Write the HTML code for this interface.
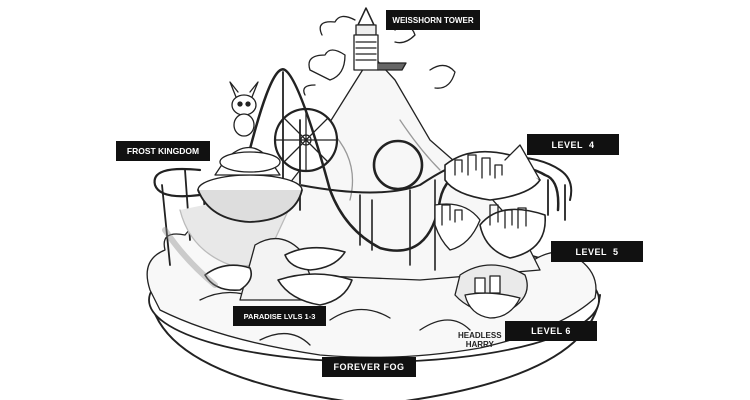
<!DOCTYPE html>
<html><head><meta charset="utf-8"><style>
html,body{margin:0;padding:0;background:#fff;}
.wrap{position:relative;width:750px;height:400px;overflow:hidden;background:#fff;}
.lb{position:absolute;background:#111;color:#fff;font-family:"Liberation Sans",sans-serif;font-size:9px;font-weight:bold;letter-spacing:0.5px;display:flex;align-items:center;justify-content:center;white-space:nowrap;overflow:hidden;}
</style></head><body><div class="wrap">
<svg width="750" height="400" viewBox="0 0 750 400" style="position:absolute;left:0;top:0" fill="none" stroke="#222" stroke-width="1.3" stroke-linejoin="round" stroke-linecap="round">
<path d="M150 295 Q160 380 375 405 Q590 380 600 295" stroke-width="2" fill="#fff"/>
<ellipse cx="374" cy="300" rx="225" ry="62" stroke-width="1.8" fill="#fff"/>
<path d="M150 290 Q140 260 165 250 Q160 230 185 235 Q200 215 230 228 Q260 215 290 232 Q330 225 350 250 Q390 240 420 262 Q450 250 470 265 Q500 255 520 270 Q555 240 580 260 Q600 275 595 298 Q560 330 480 348 Q400 362 320 355 Q220 340 160 310 Z" fill="#f8f8f8"/>
<path d="M200 300 Q230 285 260 300 M330 320 Q360 300 390 318 M420 330 Q450 310 470 330 M260 340 Q290 325 310 345" />
<path d="M230 260 L300 170 L350 90 L372 55 L395 80 L430 140 L470 175 L520 230 L540 270 L420 280 L300 275 Z" fill="#f7f7f7"/>
<path d="M330 130 Q360 160 350 200 M400 120 Q420 150 440 170" stroke="#999"/>
<path d="M322 35 Q315 20 335 22 Q340 12 355 20 M395 30 Q410 20 415 35 Q405 45 395 42 M310 70 Q305 55 325 55 Q330 45 345 55 Q345 75 330 80 Z M430 70 Q445 60 455 72 Q450 90 435 88 M305 95 Q300 85 315 85" fill="#fff"/>
<path d="M358 25 L366 8 L374 25 Z" fill="#fff" stroke-width="1.5"/>
<rect x="356" y="25" width="20" height="10" fill="#eee"/>
<rect x="354" y="35" width="24" height="35" fill="#fff"/>
<path d="M356 42 H376 M356 48 H376 M356 54 H376 M356 60 H376"/>
<path d="M378 63 H406 L402 70 H378" fill="#666"/>
<circle cx="306" cy="140" r="31" stroke-width="2.2" fill="#fff"/>
<circle cx="306" cy="140" r="5"/>
<path d="M306 109 V171 M275 140 H337 M284 118 L328 162 M328 118 L284 162"/>
<path d="M240 190 Q270 60 285 70 Q300 80 330 190 Q345 230 380 248 Q430 262 440 200 Q445 175 470 170 Q520 160 545 175 Q560 180 558 210" stroke-width="2.5"/>
<path d="M283 72 V190 M300 120 V210" stroke-width="1.8"/>
<circle cx="398" cy="165" r="24" stroke-width="2.6"/>
<path d="M300 185 Q380 200 420 185 Q450 165 470 160 Q530 150 560 170 Q575 180 570 200" stroke-width="2"/>
<path d="M360 195 V245 M372 200 V250 M410 190 V265 M435 180 V270" stroke-width="1.6"/>
<path d="M200 170 Q150 165 155 185 Q160 200 200 195" stroke-width="2.2"/>
<path d="M162 185 L170 265 M185 170 L190 240 M203 185 L206 230" stroke-width="1.8"/>
<path d="M548 180 V215 M565 185 V220" stroke-width="1.8"/>
<path d="M180 210 Q190 250 230 265 Q260 270 270 250 L300 185" fill="#e8e8e8" stroke="#bbb"/>
<ellipse cx="250" cy="190" rx="52" ry="15" fill="#fff"/>
<path d="M198 190 Q210 220 250 222 Q295 220 302 190" fill="#ddd" stroke-width="1.8"/>
<path d="M225 160 Q250 135 270 160 L280 175 H215 Z" fill="#fff"/>
<ellipse cx="250" cy="162" rx="30" ry="10" fill="#fff"/>
<ellipse cx="244" cy="105" rx="12" ry="10" fill="#fff"/>
<path d="M236 97 L230 82 L238 92 M252 97 L258 82 L250 92" fill="#fff"/>
<circle cx="240" cy="104" r="2" fill="#222"/><circle cx="248" cy="104" r="2" fill="#222"/>
<ellipse cx="244" cy="125" rx="10" ry="11" fill="#fff"/>
<path d="M445 165 Q470 145 510 155 L540 180 Q530 195 490 200 Q455 195 445 180 Z" fill="#fff" stroke-width="1.6"/>
<path d="M505 160 L520 145 L540 180" fill="#fff"/>
<path d="M455 175 V160 H462 V172 M468 175 V155 H476 V170 M482 178 V158 H490 V175 M495 178 V165 H502 V175"/>
<path d="M435 205 Q465 200 480 220 Q470 245 450 250 Q440 240 435 225Z" fill="#fff"/>
<path d="M480 225 Q500 200 545 215 Q548 250 510 258 Q485 250 480 225 Z" fill="#fff" stroke-width="1.6"/>
<path d="M442 225 V205 H450 V220 M455 222 V210 H462 V220 M490 225 V205 H498 V222 M505 228 V210 H512 V225 M518 228 V208 H526 V226"/>
<path d="M460 275 Q490 255 525 275 Q535 300 500 315 Q470 312 455 295 Z" fill="#eaeaea"/>
<path d="M465 295 Q490 290 520 298 Q510 318 490 318 Q470 315 465 295Z" fill="#fff"/>
<rect x="475" y="278" width="10" height="15" fill="#fff"/><rect x="490" y="276" width="10" height="17" fill="#fff"/>
<path d="M255 245 Q280 230 300 250 L320 300 L240 300 Z" fill="#f3f3f3"/>
<path d="M205 275 Q225 260 250 268 Q255 280 240 290 Q215 292 205 275 Z" fill="#fff" stroke-width="1.6"/>
<path d="M285 255 Q310 242 345 252 Q335 268 310 270 Q290 268 285 255 Z" fill="#fff" stroke-width="1.6"/>
<path d="M278 280 Q315 268 352 280 Q345 300 320 305 Q290 300 278 280 Z" fill="#fff" stroke-width="1.6"/>
<path d="M165 230 Q185 260 215 285" stroke="#888" stroke-width="6" opacity="0.4"/>
</svg>
<div class="lb" style="left:386px;top:10px;width:94px;height:20px;font-size:8px;letter-spacing:0;">WEISSHORN TOWER</div>
<div class="lb" style="left:116px;top:141px;width:94px;height:20px;font-size:8.5px;letter-spacing:0;">FROST KINGDOM</div>
<div class="lb" style="left:527px;top:134px;width:92px;height:21px;">LEVEL&nbsp;&nbsp;4</div>
<div class="lb" style="left:551px;top:241px;width:92px;height:21px;">LEVEL&nbsp;&nbsp;5</div>
<div class="lb" style="left:233px;top:306px;width:93px;height:20px;font-size:7.5px;letter-spacing:0;">PARADISE LVLS 1-3</div>
<div class="lb" style="left:505px;top:321px;width:92px;height:20px;">LEVEL 6</div>
<div class="lb" style="left:322px;top:357px;width:94px;height:20px;">FOREVER FOG</div>
<div style="position:absolute;left:458px;top:331px;font:bold 8px 'Liberation Sans',sans-serif;line-height:9px;text-align:center;color:#222;">HEADLESS<br>HARRY</div>
</div></body></html>
